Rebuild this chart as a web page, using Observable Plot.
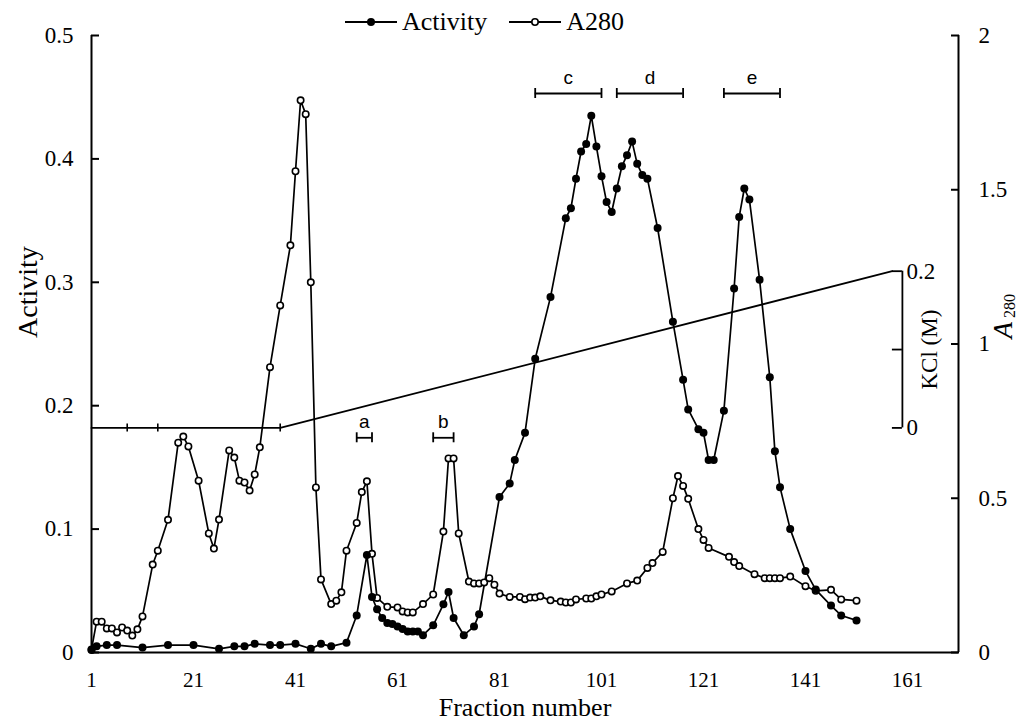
<!DOCTYPE html>
<html>
<head>
<meta charset="utf-8">
<script src="https://cdn.jsdelivr.net/npm/d3@7"></script>
<script src="https://cdn.jsdelivr.net/npm/@observablehq/plot@0.6"></script>
<style>
  html, body { margin: 0; padding: 0; background: #fff; }
  #wrap { position: relative; width: 1019px; height: 726px; }
  #legend { position: absolute; left: 345px; top: 7px; display: flex; align-items: center;
            font-family: "Liberation Serif", "Times New Roman", serif; font-size: 26px; color: #000; }
  #legend .item { display: flex; align-items: center; margin-right: 22px; }
  #legend svg { margin-right: 5px; }
</style>
</head>
<body>
<div id="wrap"></div>
<script>
// ---------- data ----------
const fractionTicks = [1, 21, 41, 61, 81, 101, 121, 141, 161];
const activityTicks = [0, 0.1, 0.2, 0.3, 0.4, 0.5];
const a280Ticks = [0, 0.5, 1, 1.5, 2];
const kclTicks = [0, 0.1, 0.2];
const kclLabelledTicks = [0, 0.2];

const activityFraction = [1,2,4,6,11,16,21,26,29,31,33,36,38,41,44,46,48,51,53,55,56,57,58,59,60,61,62,63,64,65,66,68,70,71,72,74,76,77,81,83,84,86,88,91,94,95,96,97,98,99,100,101,102,103,104,105,106,107,108,109,110,112,115,117,118,120,121,122,123,125,127,128,129,130,132,134,135,136,138,141,143,146,148,151];
const activityValue = [0.002,0.005,0.006,0.006,0.004,0.006,0.006,0.003,0.005,0.005,0.007,0.006,0.006,0.007,0.003,0.007,0.005,0.008,0.030,0.079,0.045,0.035,0.028,0.024,0.023,0.021,0.019,0.017,0.017,0.017,0.014,0.022,0.039,0.049,0.028,0.014,0.021,0.031,0.126,0.137,0.156,0.178,0.238,0.288,0.352,0.360,0.384,0.406,0.412,0.435,0.410,0.386,0.365,0.357,0.376,0.394,0.403,0.414,0.396,0.387,0.384,0.344,0.268,0.221,0.197,0.181,0.178,0.156,0.156,0.196,0.295,0.353,0.376,0.367,0.302,0.223,0.163,0.134,0.100,0.066,0.051,0.038,0.030,0.026];

const a280Fraction = [1,2,3,4,5,6,7,8,9,10,11,13,14,16,18,19,20,22,24,25,26,28,29,30,31,32,33,34,36,38,40,41,42,43,44,45,46,48,49,50,51,53,54,55,56,57,59,61,62,63,64,66,68,70,71,72,73,75,76,77,78,79,80,81,83,85,86,87,88,89,91,93,94,95,96,98,99,100,101,103,106,108,110,111,113,115,116,117,118,120,121,122,126,127,128,131,133,134,135,136,138,141,143,146,148,151];
const a280Value = [0.01,0.10,0.10,0.078,0.078,0.065,0.081,0.071,0.055,0.075,0.117,0.285,0.33,0.43,0.68,0.70,0.668,0.557,0.386,0.337,0.431,0.655,0.632,0.557,0.551,0.525,0.577,0.665,0.925,1.125,1.32,1.56,1.79,1.745,1.20,0.535,0.237,0.157,0.168,0.195,0.33,0.42,0.52,0.555,0.32,0.177,0.148,0.146,0.133,0.13,0.13,0.157,0.188,0.392,0.629,0.629,0.386,0.23,0.224,0.224,0.227,0.241,0.22,0.191,0.18,0.18,0.173,0.178,0.178,0.182,0.169,0.165,0.162,0.162,0.172,0.175,0.175,0.182,0.188,0.198,0.224,0.233,0.274,0.29,0.326,0.50,0.572,0.54,0.498,0.40,0.365,0.339,0.31,0.293,0.28,0.254,0.241,0.241,0.241,0.241,0.246,0.215,0.20,0.203,0.172,0.168];

// KCl step gradient (M)
const kclFraction = [1, 38, 158];
const kclValue = [0, 0, 0.2];
const kclMarkFractions = [8, 14, 38];

// pooled fractions
const poolLabel = ["a", "b", "c", "d", "e"];
const poolStart = [53, 68, 88, 104, 125];
const poolEnd = [56, 72, 101, 117, 136];
const poolLevel = [0.174, 0.174, 0.453, 0.453, 0.453];

// ---------- scale helpers ----------
const xDomain = [1, 171];
const yDomain = [0, 0.5];
const a280ToActivity = yDomain[1] / a280Ticks[a280Ticks.length - 1];
const kclAxisFraction = 160;
const kclBase = 0.182, kclSpan = 0.635;   // KCl axis placed inside activity units
const kclToY = k => kclBase + k * kclSpan;

const activityRows = activityFraction.map((f, i) => ({f, v: activityValue[i]}));
const a280Rows = a280Fraction.map((f, i) => ({f, a: a280Value[i]}));
const kclRows = kclFraction.map((f, i) => ({f, k: kclValue[i]}));
const pools = poolLabel.map((label, i) => ({label, s: poolStart[i], e: poolEnd[i], lv: poolLevel[i]}));

const serif = '"Liberation Serif", "Times New Roman", serif';
const sans = '"Liberation Sans", Arial, sans-serif';

const chart = Plot.plot({
  width: 1019,
  height: 726,
  marginLeft: 91,
  marginRight: 61,
  marginTop: 35,
  marginBottom: 74,
  x: {domain: xDomain},
  y: {domain: yDomain},
  style: {fontFamily: serif, fontSize: "23px", background: "white", color: "black", overflow: "visible"},
  marks: [
    // frame
    Plot.ruleX([xDomain[0], xDomain[1]], {strokeWidth: 2}),
    Plot.ruleY([0], {strokeWidth: 2}),
    // axes
    Plot.axisX(fractionTicks, {tickSize: 0, tickPadding: 20, fontSize: 21, label: null}),
    Plot.axisY(activityTicks, {anchor: "left", tickSize: -8, tickPadding: 26, strokeWidth: 2,
      tickFormat: d => String(d), label: null}),
    Plot.axisY(a280Ticks.map(t => t * a280ToActivity), {anchor: "right", tickSize: -8, tickPadding: 28, strokeWidth: 2,
      tickFormat: d => String(+(d / a280ToActivity).toFixed(2)), label: null}),
    // axis titles
    Plot.text(["Fraction number"], {frameAnchor: "bottom", dy: 63, fontSize: 26}),
    Plot.text(["Activity"], {frameAnchor: "left", dx: -63, dy: -6, rotate: -90, fontSize: 28}),
    Plot.text(["A"], {frameAnchor: "right", dx: 45, dy: -22, rotate: -90, fontSize: 27, fontStyle: "italic"}),
    Plot.text(["280"], {frameAnchor: "right", dx: 51, dy: -50, rotate: -90, fontSize: 16}),
    // KCl gradient and its axis
    Plot.line(kclRows, {x: "f", y: d => kclToY(d.k), stroke: "black", strokeWidth: 1.8}),
    Plot.ruleX(kclMarkFractions, {x: d => d, y1: kclToY(0), y2: kclToY(0), insetTop: -4, insetBottom: -4, strokeWidth: 1.6}),
    Plot.ruleX([kclAxisFraction], {y1: kclToY(kclTicks[0]), y2: kclToY(kclTicks[kclTicks.length - 1]), strokeWidth: 1.8}),
    Plot.ruleY(kclTicks, {y: kclToY, x1: kclAxisFraction, x2: kclAxisFraction, insetLeft: -10, strokeWidth: 1.8}),
    Plot.text(kclLabelledTicks, {x: kclAxisFraction, y: kclToY, text: d => String(d), dx: 4, textAnchor: "start", fontSize: 23}),
    Plot.text(["KCl (M)"], {x: kclAxisFraction, y: kclToY(0.1), dx: 27, rotate: -90, fontSize: 23}),
    // pooled fraction brackets
    Plot.ruleY(pools, {x1: "s", x2: "e", y: "lv", strokeWidth: 1.8}),
    Plot.ruleX(pools, {x: "s", y1: "lv", y2: "lv", insetTop: -5, insetBottom: -5, strokeWidth: 1.8}),
    Plot.ruleX(pools, {x: "e", y1: "lv", y2: "lv", insetTop: -5, insetBottom: -5, strokeWidth: 1.8}),
    Plot.text(pools, {x: d => (d.s + d.e) / 2, y: "lv", text: "label", dy: -16, fontFamily: sans, fontSize: 19}),
    // series
    Plot.line(a280Rows, {x: "f", y: d => d.a * a280ToActivity, stroke: "black", strokeWidth: 1.7}),
    Plot.line(activityRows, {x: "f", y: "v", stroke: "black", strokeWidth: 1.7}),
    Plot.dot(a280Rows, {x: "f", y: d => d.a * a280ToActivity, r: 3.2, fill: "white", stroke: "black", strokeWidth: 1.6}),
    Plot.dot(activityRows, {x: "f", y: "v", r: 4, fill: "black", stroke: "none"})
  ]
});

const wrap = document.getElementById("wrap");
wrap.appendChild(chart);

// legend
const legend = document.createElement("div");
legend.id = "legend";
const legendItems = [
  {name: "Activity", filled: true},
  {name: "A280", filled: false}
];
for (const item of legendItems) {
  const el = document.createElement("div");
  el.className = "item";
  el.innerHTML = `<svg width="52" height="16" viewBox="0 0 52 16">
      <line x1="0" y1="8" x2="52" y2="8" stroke="black" stroke-width="2"/>
      <circle cx="26" cy="8" r="${item.filled ? 4 : 3.2}" fill="${item.filled ? "black" : "white"}" stroke="black" stroke-width="${item.filled ? 0 : 1.6}"/>
    </svg><span>${item.name}</span>`;
  legend.appendChild(el);
}
wrap.appendChild(legend);
</script>
</body>
</html>
